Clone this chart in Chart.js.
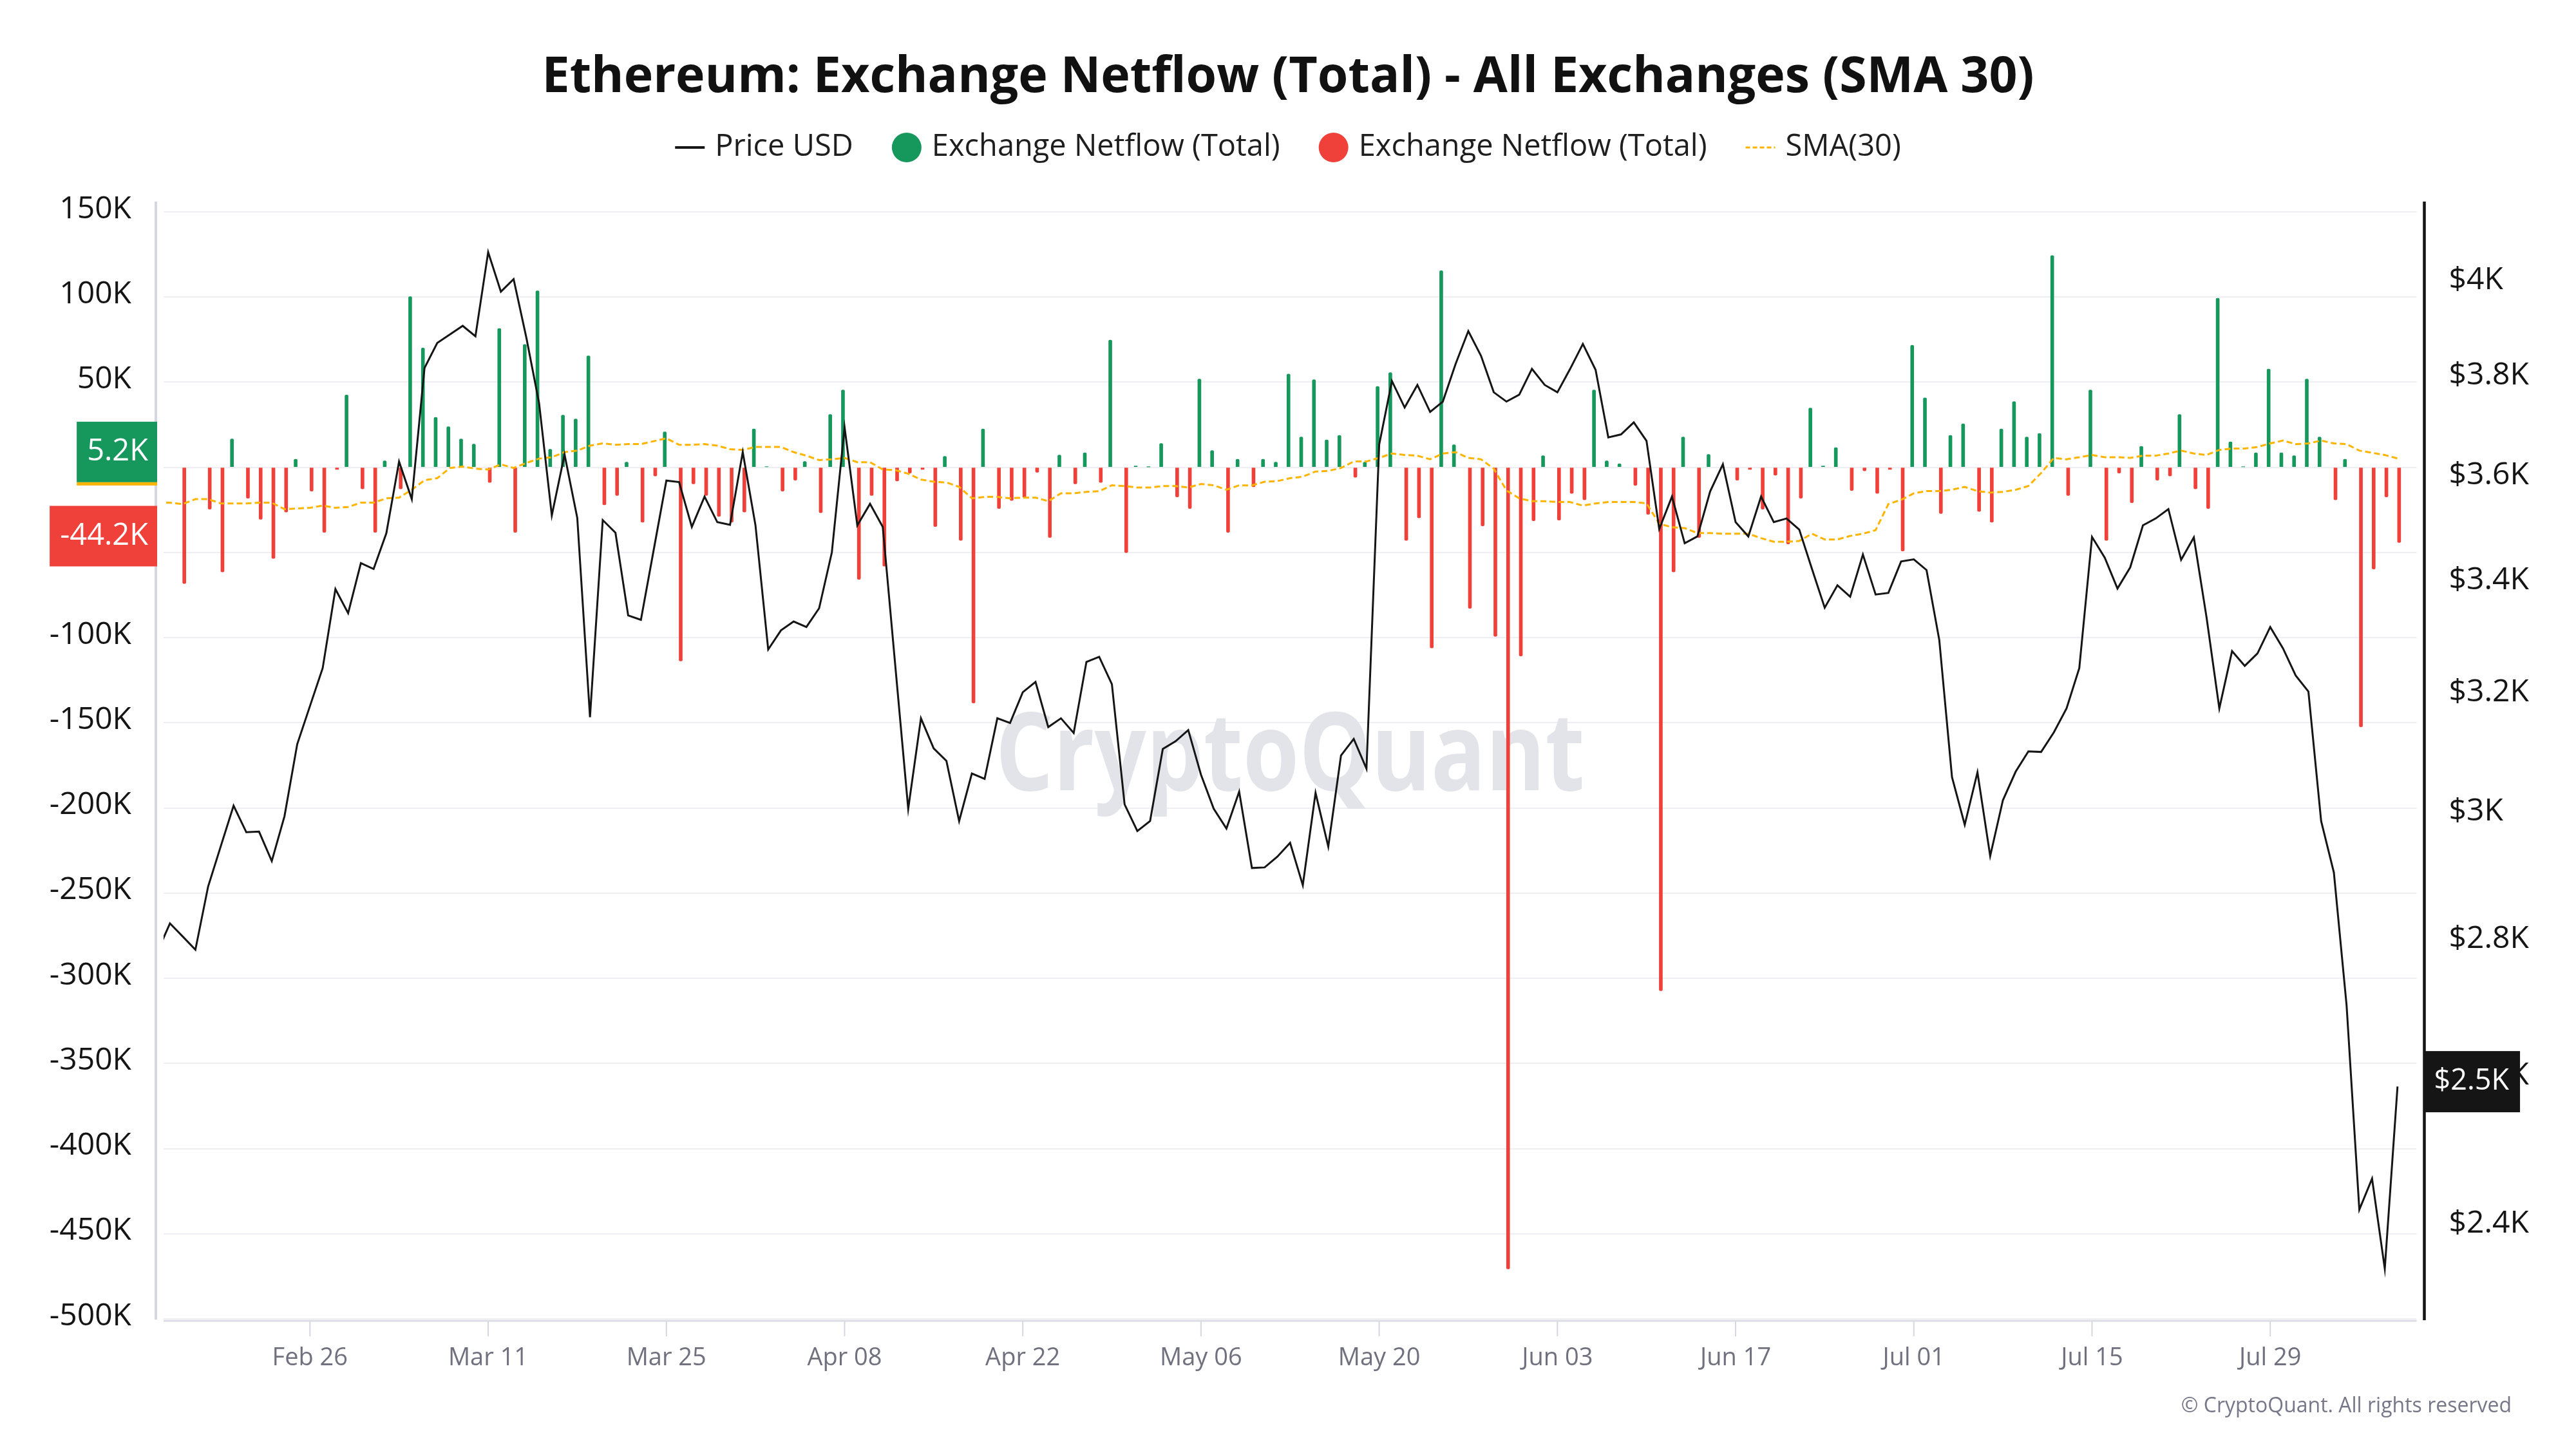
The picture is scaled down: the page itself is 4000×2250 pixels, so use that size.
<!DOCTYPE html>
<html>
<head>
<meta charset="utf-8">
<title>Ethereum: Exchange Netflow (Total) - All Exchanges (SMA 30)</title>
<script src="https://cdn.jsdelivr.net/npm/chart.js@4.4.1/dist/chart.umd.min.js"></script>
<style>
  html, body { margin: 0; padding: 0; background: #fff; }
  #wrap { width: 4000px; height: 2250px; }
</style>
</head>
<body>
<div id="wrap"><canvas id="netflowChart" width="4000" height="2250"></canvas></div>
<script>
// one entry per day, first entry is 2024-02-14
const firstDate = '2024-02-14';

const priceUsd = [
  2782, 2826, 2806, 2786, 2883, 2947, 3012, 2969, 2970, 2923,
  2995, 3114, 3179, 3245, 3387, 3343, 3435, 3424, 3491, 3629,
  3556, 3818, 3870, 3888, 3906, 3884, 4065, 3979, 4006, 3881,
  3746, 3525, 3643, 3520, 3160, 3516, 3492, 3339, 3331, 3459,
  3592, 3589, 3503, 3561, 3512, 3507, 3648, 3506, 3278, 3312,
  3328, 3318, 3352, 3455, 3697, 3506, 3547, 3503, 3245, 3007,
  3158, 3107, 3086, 2987, 3065, 3056, 3158, 3150, 3203, 3221,
  3143, 3158, 3133, 3256, 3265, 3217, 3014, 2971, 2987, 3106,
  3119, 3138, 3063, 3007, 2975, 3035, 2912, 2913, 2930, 2952,
  2885, 3033, 2946, 3095, 3123, 3073, 3663, 3791, 3737, 3783,
  3728, 3749, 3826, 3895, 3843, 3768, 3749, 3763, 3816, 3783,
  3768, 3816, 3868, 3814, 3677, 3683, 3707, 3670, 3499, 3561,
  3472, 3485, 3571, 3624, 3512, 3485, 3561, 3512, 3519, 3498,
  3424, 3353, 3394, 3373, 3451, 3377, 3380, 3438, 3442, 3422,
  3295, 3059, 2981, 3067, 2931, 3021, 3068, 3102, 3101, 3134,
  3175, 3245, 3484, 3445, 3388, 3427, 3506, 3519, 3537, 3441,
  3483, 3335, 3175, 3275, 3249, 3271, 3318, 3280, 3232, 3204,
  2987, 2905, 2703, 2420, 2461, 2344, 2587
];

// exchange netflow, thousands of ETH
const netflow = [
  null, null, -68.3, 0, -24.6, -61.5, 16.6, -18.2, -30.6, -53.5,
  -26.3, 4.7, -14.0, -38.2, -1.3, 42.4, -12.7, -38.2, 3.8, -12.7,
  100.2, 70.0, 29.3, 23.8, 16.6, 13.6, -8.9, 81.5, -38.2, 72.1,
  103.6, 10.6, 30.6, 28.4, 65.4, -22.1, -16.6, 3.0, -32.3, -5.1,
  20.8, -113.7, -9.8, -16.6, -28.9, -32.3, -26.3, 22.5, 0.3, -14.0,
  -7.6, 3.4, -26.7, 31.0, 45.4, -65.8, -16.6, -58.1, -8.1, -3.4,
  -1.3, -34.8, 6.4, -42.9, -138.4, 22.5, -24.2, -19.5, -17.8, -3.0,
  -41.2, 7.2, -9.8, 8.5, -8.9, 74.7, -50.1, 0.8, 0.2, 14.0,
  -17.4, -24.2, 51.8, 9.8, -38.2, 4.7, -11.5, 4.7, 3.0, 54.7,
  17.8, 51.4, 16.1, 18.7, -5.9, 3.0, 47.5, 55.6, -42.9, -29.7,
  -106.1, 115.4, 13.2, -82.8, -34.4, -99.3, -470.7, -110.8, -31.4, 6.8,
  -31.0, -15.3, -19.1, 45.4, 3.8, 2.1, -10.6, -27.6, -307.3, -61.5,
  17.8, -41.2, 7.6, 0, -7.6, -1.3, -24.6, -4.7, -45.0, -18.2,
  34.8, 0.8, 11.5, -13.6, -2.1, -15.3, -1.3, -49.2, 71.7, 40.7,
  -27.2, 18.7, 25.5, -25.9, -32.3, 22.5, 38.6, 17.8, 19.9, 124.3,
  -16.6, 0, 45.4, -42.9, -3.4, -20.8, 12.3, -7.6, -5.1, 31.0,
  -12.7, -24.2, 99.3, 14.9, 0.3, 8.5, 57.7, 8.5, 6.8, 51.8,
  17.8, -19.1, 4.7, -152.4, -59.8, -17.4, -44.2
];

const sma30 = [
  -20.8, -20.8, -21.6, -18.7, -18.7, -21.2, -21.2, -21.2, -20.8, -20.8,
  -24.6, -24.2, -23.8, -22.5, -23.8, -23.3, -20.8, -20.8, -18.2, -17.8,
  -13.2, -7.6, -6.4, -0.4, 0.4, -0.8, -1.3, 1.7, -0.4, 2.5,
  5.1, 5.9, 8.9, 9.8, 12.7, 14.0, 13.2, 13.6, 13.6, 15.3,
  17.0, 13.2, 13.2, 13.6, 12.7, 10.6, 10.2, 11.9, 11.9, 11.9,
  8.9, 6.8, 4.2, 4.7, 5.5, 3.0, 3.0, -1.3, -1.7, -3.8,
  -7.2, -8.5, -8.9, -11.5, -18.2, -17.4, -17.4, -18.2, -17.8, -17.8,
  -19.9, -15.3, -15.3, -14.4, -14.0, -10.6, -11.0, -11.9, -11.9, -11.0,
  -11.0, -11.9, -9.8, -10.6, -13.2, -10.6, -10.6, -8.5, -8.1, -6.4,
  -5.5, -2.5, -2.1, -0.4, 3.4, 3.4, 5.5, 8.1, 7.2, 6.8,
  4.7, 8.1, 8.9, 5.5, 4.7, -0.8, -13.6, -18.2, -19.9, -19.9,
  -20.4, -20.4, -22.5, -21.2, -20.4, -20.4, -20.4, -21.2, -33.1, -35.2,
  -35.7, -38.6, -38.6, -39.0, -39.0, -39.0, -41.6, -43.7, -43.7, -43.3,
  -39.0, -42.4, -42.4, -40.3, -39.0, -36.9, -21.6, -19.1, -15.3, -14.0,
  -14.0, -13.2, -11.5, -14.0, -14.9, -14.4, -13.2, -11.0, -3.4, 5.5,
  4.7, 5.9, 7.2, 5.9, 5.9, 5.5, 6.8, 6.8, 8.1, 9.8,
  8.1, 7.2, 10.2, 11.0, 11.0, 11.9, 14.0, 15.7, 13.6, 14.0,
  15.7, 14.0, 13.6, 9.8, 8.5, 7.2, 5.2
];

// x axis ticks (day position in the arrays above)
const tickDays = [12, 26, 40, 54, 68, 82, 96, 110, 124, 138, 152, 166];
const tickLabels = ['Feb 26', 'Mar 11', 'Mar 25', 'Apr 08', 'Apr 22', 'May 06',
                    'May 20', 'Jun 03', 'Jun 17', 'Jul 01', 'Jul 15', 'Jul 29'];
const netflowTicks = [-500, -450, -400, -350, -300, -250, -200, -150, -100, -50, 0, 50, 100, 150];
const priceTicks = [2400, 2600, 2800, 3000, 3200, 3400, 3600, 3800, 4000];

const GREEN = '#16985d';
const RED = '#f0403a';
const SMA_COLOR = '#ffb400';
const PRICE_COLOR = '#151515';
const FONT = '"Open Sans", sans-serif';

Chart.defaults.font.family = FONT;

const pricePoints = priceUsd.map((v, i) => ({ x: i, y: v }));
const smaPoints = sma30.map((v, i) => ({ x: i, y: v }));
const inflowPoints = [];
const outflowPoints = [];
netflow.forEach((v, i) => {
  if (v > 0) inflowPoints.push({ x: i, y: v });
  if (v < 0) outflowPoints.push({ x: i, y: v });
});

function line(ctx, x1, y1, x2, y2) {
  ctx.beginPath();
  ctx.moveTo(x1, y1);
  ctx.lineTo(x2, y2);
  ctx.stroke();
}

// value tag on the left axis, right edge fixed
function leftTag(ctx, text, yCenter, color, stripe) {
  ctx.font = '47px ' + FONT;
  const w = ctx.measureText(text).width + 30;
  const right = 244, h = 94;
  ctx.fillStyle = color;
  ctx.fillRect(right - w, yCenter - h / 2, w, h);
  if (stripe) {
    ctx.fillStyle = stripe;
    ctx.fillRect(right - w, yCenter + h / 2, w, 5);
  }
  ctx.fillStyle = '#fff';
  ctx.textAlign = 'right';
  ctx.textBaseline = 'middle';
  ctx.fillText(text, right - 14, yCenter);
}

const decor = {
  id: 'decor',
  beforeDatasetsDraw(chart) {
    const { ctx, chartArea: a } = chart;
    ctx.save();
    // watermark: tall letters squeezed to the reference width
    ctx.font = '700 168px ' + FONT;
    const sx = 915 / ctx.measureText('CryptoQuant').width;
    ctx.translate((a.left + a.right) / 2, (a.top + a.bottom) / 2 + 46);
    ctx.scale(sx, 1);
    ctx.fillStyle = '#e3e3ea';
    ctx.textAlign = 'center';
    ctx.textBaseline = 'alphabetic';
    ctx.fillText('CryptoQuant', 0, 0);
    ctx.restore();
  },
  afterDraw(chart) {
    const { ctx, chartArea: a, scales } = chart;
    ctx.save();

    // axis frame
    ctx.lineWidth = 4;
    ctx.strokeStyle = '#d6d6e0';
    line(ctx, a.left - 12, a.top, a.left - 12, a.bottom + 1);
    ctx.lineWidth = 3;
    ctx.strokeStyle = '#dcdce6';
    line(ctx, a.left, a.bottom + 3, a.right, a.bottom + 3);
    ctx.lineWidth = 2;
    ctx.strokeStyle = '#d6d6e0';
    tickDays.forEach(d => {
      const x = scales.x.getPixelForValue(d);
      line(ctx, x, a.bottom + 4, x, a.bottom + 27);
    });
    ctx.lineWidth = 4.5;
    ctx.strokeStyle = '#151515';
    line(ctx, a.right + 12, a.top, a.right + 12, a.bottom + 2);

    // title
    ctx.fillStyle = '#111';
    ctx.font = '700 77px ' + FONT;
    ctx.textAlign = 'center';
    ctx.textBaseline = 'alphabetic';
    ctx.fillText('Ethereum: Exchange Netflow (Total) - All Exchanges (SMA 30)', 2000, 143);

    // legend
    const ds = chart.data.datasets;
    const items = [
      { kind: 'line', color: ds[0].borderColor, text: ds[0].label },
      { kind: 'dot', color: ds[1].backgroundColor, text: ds[1].label },
      { kind: 'dot', color: ds[2].backgroundColor, text: ds[2].label },
      { kind: 'dash', color: ds[3].borderColor, text: ds[3].label }
    ];
    ctx.font = '47px ' + FONT;
    const markW = 46, markGap = 16, itemGap = 60;
    let total = 0;
    items.forEach((it, i) => {
      it.w = ctx.measureText(it.text).width;
      total += markW + markGap + it.w + (i ? itemGap : 0);
    });
    let x = 2000 - total / 2;
    const ly = 229;
    items.forEach(it => {
      if (it.kind === 'dot') {
        ctx.fillStyle = it.color;
        ctx.beginPath();
        ctx.arc(x + markW / 2, ly, 23, 0, Math.PI * 2);
        ctx.fill();
      } else {
        ctx.strokeStyle = it.color;
        ctx.lineWidth = it.kind === 'line' ? 4 : 3;
        ctx.setLineDash(it.kind === 'dash' ? [7, 4] : []);
        line(ctx, x, ly, x + markW, ly);
        ctx.setLineDash([]);
      }
      ctx.fillStyle = '#1e1e1e';
      ctx.textAlign = 'left';
      ctx.textBaseline = 'middle';
      ctx.fillText(it.text, x + markW + markGap, ly);
      x += markW + markGap + it.w + itemGap;
    });

    // last value tags
    const lastSma = sma30[sma30.length - 1];
    const lastFlow = netflow[netflow.length - 1];
    const lastPrice = priceUsd[priceUsd.length - 1];
    leftTag(ctx, lastSma.toFixed(1) + 'K', scales.y.getPixelForValue(lastSma) - 10, GREEN, SMA_COLOR);
    leftTag(ctx, lastFlow.toFixed(1) + 'K', scales.y.getPixelForValue(lastFlow) - 10, RED, null);

    const priceText = '$' + (Math.floor(lastPrice / 100) / 10) + 'K';
    ctx.font = '45px ' + FONT;
    const pw = ctx.measureText(priceText).width + 32;
    const py = scales.y1.getPixelForValue(lastPrice) - 8;
    ctx.fillStyle = '#151515';
    ctx.fillRect(a.right + 12, py - 47, pw, 95);
    ctx.fillStyle = '#fff';
    ctx.textAlign = 'left';
    ctx.textBaseline = 'middle';
    ctx.fillText(priceText, a.right + 27, py);

    // footer
    ctx.font = '32px ' + FONT;
    ctx.fillStyle = '#77778a';
    ctx.textAlign = 'right';
    ctx.textBaseline = 'alphabetic';
    ctx.fillText('\u00a9 CryptoQuant. All rights reserved', 3900, 2193);

    ctx.restore();
  }
};

new Chart(document.getElementById('netflowChart'), {
  type: 'line',
  data: {
    datasets: [
      {
        label: 'Price USD',
        data: pricePoints,
        yAxisID: 'y1',
        borderColor: PRICE_COLOR,
        borderWidth: 3,
        pointRadius: 0,
        tension: 0,
        order: 0
      },
      {
        type: 'bar',
        label: 'Exchange Netflow (Total)',
        data: inflowPoints,
        yAxisID: 'y',
        backgroundColor: GREEN,
        barThickness: 5,
        borderRadius: 2,
        order: 2
      },
      {
        type: 'bar',
        label: 'Exchange Netflow (Total)',
        data: outflowPoints,
        yAxisID: 'y',
        backgroundColor: RED,
        barThickness: 5,
        borderRadius: 2,
        order: 2
      },
      {
        label: 'SMA(30)',
        data: smaPoints,
        yAxisID: 'y',
        borderColor: SMA_COLOR,
        borderWidth: 3,
        borderDash: [9, 5],
        pointRadius: 0,
        tension: 0,
        order: 1
      }
    ]
  },
  options: {
    responsive: false,
    animation: false,
    devicePixelRatio: 1,
    layout: { padding: { top: 313, left: 0, right: 0, bottom: 0 } },
    plugins: {
      legend: { display: false },
      title: { display: false },
      tooltip: { enabled: false }
    },
    scales: {
      x: {
        type: 'linear',
        min: 0.5,
        max: 177.5,
        offset: false,
        grid: { display: false, drawTicks: false },
        border: { display: false },
        afterBuildTicks: s => { s.ticks = tickDays.map(v => ({ value: v })); },
        afterFit: s => { s.height = 202; },
        ticks: {
          autoSkip: false,
          maxRotation: 0,
          padding: 38,
          color: '#70707f',
          font: { size: 38 },
          callback: v => tickLabels[tickDays.indexOf(v)]
        }
      },
      y: {
        type: 'linear',
        position: 'left',
        min: -500,
        max: 156,
        grid: { color: '#efeff3', lineWidth: 2, drawTicks: false },
        border: { display: false },
        afterBuildTicks: s => { s.ticks = netflowTicks.map(v => ({ value: v })); },
        afterFit: s => { s.width = 254; },
        ticks: {
          padding: 50,
          labelOffset: -4,
          color: '#151515',
          font: { size: 48 },
          callback: v => (v === 0 ? '0' : v + 'K')
        }
      },
      y1: {
        type: 'logarithmic',
        position: 'right',
        min: 2281,
        max: 4178,
        grid: { display: false, drawTicks: false },
        border: { display: false },
        afterBuildTicks: s => { s.ticks = priceTicks.map(v => ({ value: v })); },
        afterFit: s => { s.width = 247.5; },
        ticks: {
          padding: 50,
          labelOffset: -2,
          color: '#151515',
          font: { size: 48 },
          callback: v => '$' + (v / 1000) + 'K'
        }
      }
    }
  },
  plugins: [decor]
});
</script>
</body>
</html>
